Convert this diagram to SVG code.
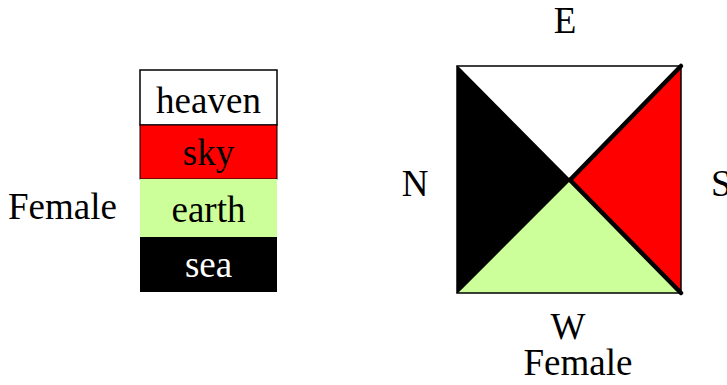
<svg xmlns="http://www.w3.org/2000/svg" width="727" height="385" viewBox="0 0 727 385">
<style>
text{font-family:"Liberation Serif","Times New Roman",serif;font-size:37px;fill:#000}
.w{fill:#fff}
.thin{stroke:#000;stroke-width:1.5;fill:none}
.thick{stroke:#000;stroke-width:4.5;fill:none;stroke-linecap:round}
</style>
<rect width="727" height="385" fill="#fff"/>
<g id="stack">
<rect x="140" y="70" width="137" height="55" fill="#fff" stroke="#000" stroke-width="1.5"/>
<rect x="140" y="125" width="137" height="54" fill="#ff0000" stroke="#000" stroke-width="1"/>
<rect x="140" y="179" width="137" height="58" fill="#ccff99" stroke="none"/>
<rect x="140" y="237" width="137" height="55" fill="#000"/>
<text x="208.5" y="113" text-anchor="middle">heaven</text>
<text x="208.5" y="165" text-anchor="middle">sky</text>
<text x="208.5" y="222" text-anchor="middle">earth</text>
<text x="208.5" y="277" text-anchor="middle" class="w">sea</text>
</g>
<g id="label-female-left"><text x="8" y="219">Female</text></g>
<g id="square">
<polygon points="457,66 681,66 570,180" fill="#fff"/>
<polygon points="457,66 570,180 457,293" fill="#000"/>
<polygon points="681,66 681,293 570,180" fill="#ff0000"/>
<polygon points="457,293 570,180 681,293" fill="#ccff99"/>
<rect x="457" y="66" width="224" height="227" class="thin"/>
<line x1="457" y1="66" x2="570" y2="180" class="thin"/>
<line x1="457" y1="293" x2="570" y2="180" class="thin"/>
</g>
<g id="connectors">
<line x1="570" y1="180" x2="681" y2="66" class="thick"/>
<line x1="570" y1="180" x2="681" y2="293" class="thick"/>
</g>
<g id="labels">
<text x="565" y="33" text-anchor="middle">E</text>
<text x="415" y="196" text-anchor="middle">N</text>
<text x="711" y="196">S</text>
<text x="568" y="339" text-anchor="middle">W</text>
<text x="578" y="375" text-anchor="middle">Female</text>
</g>
</svg>
